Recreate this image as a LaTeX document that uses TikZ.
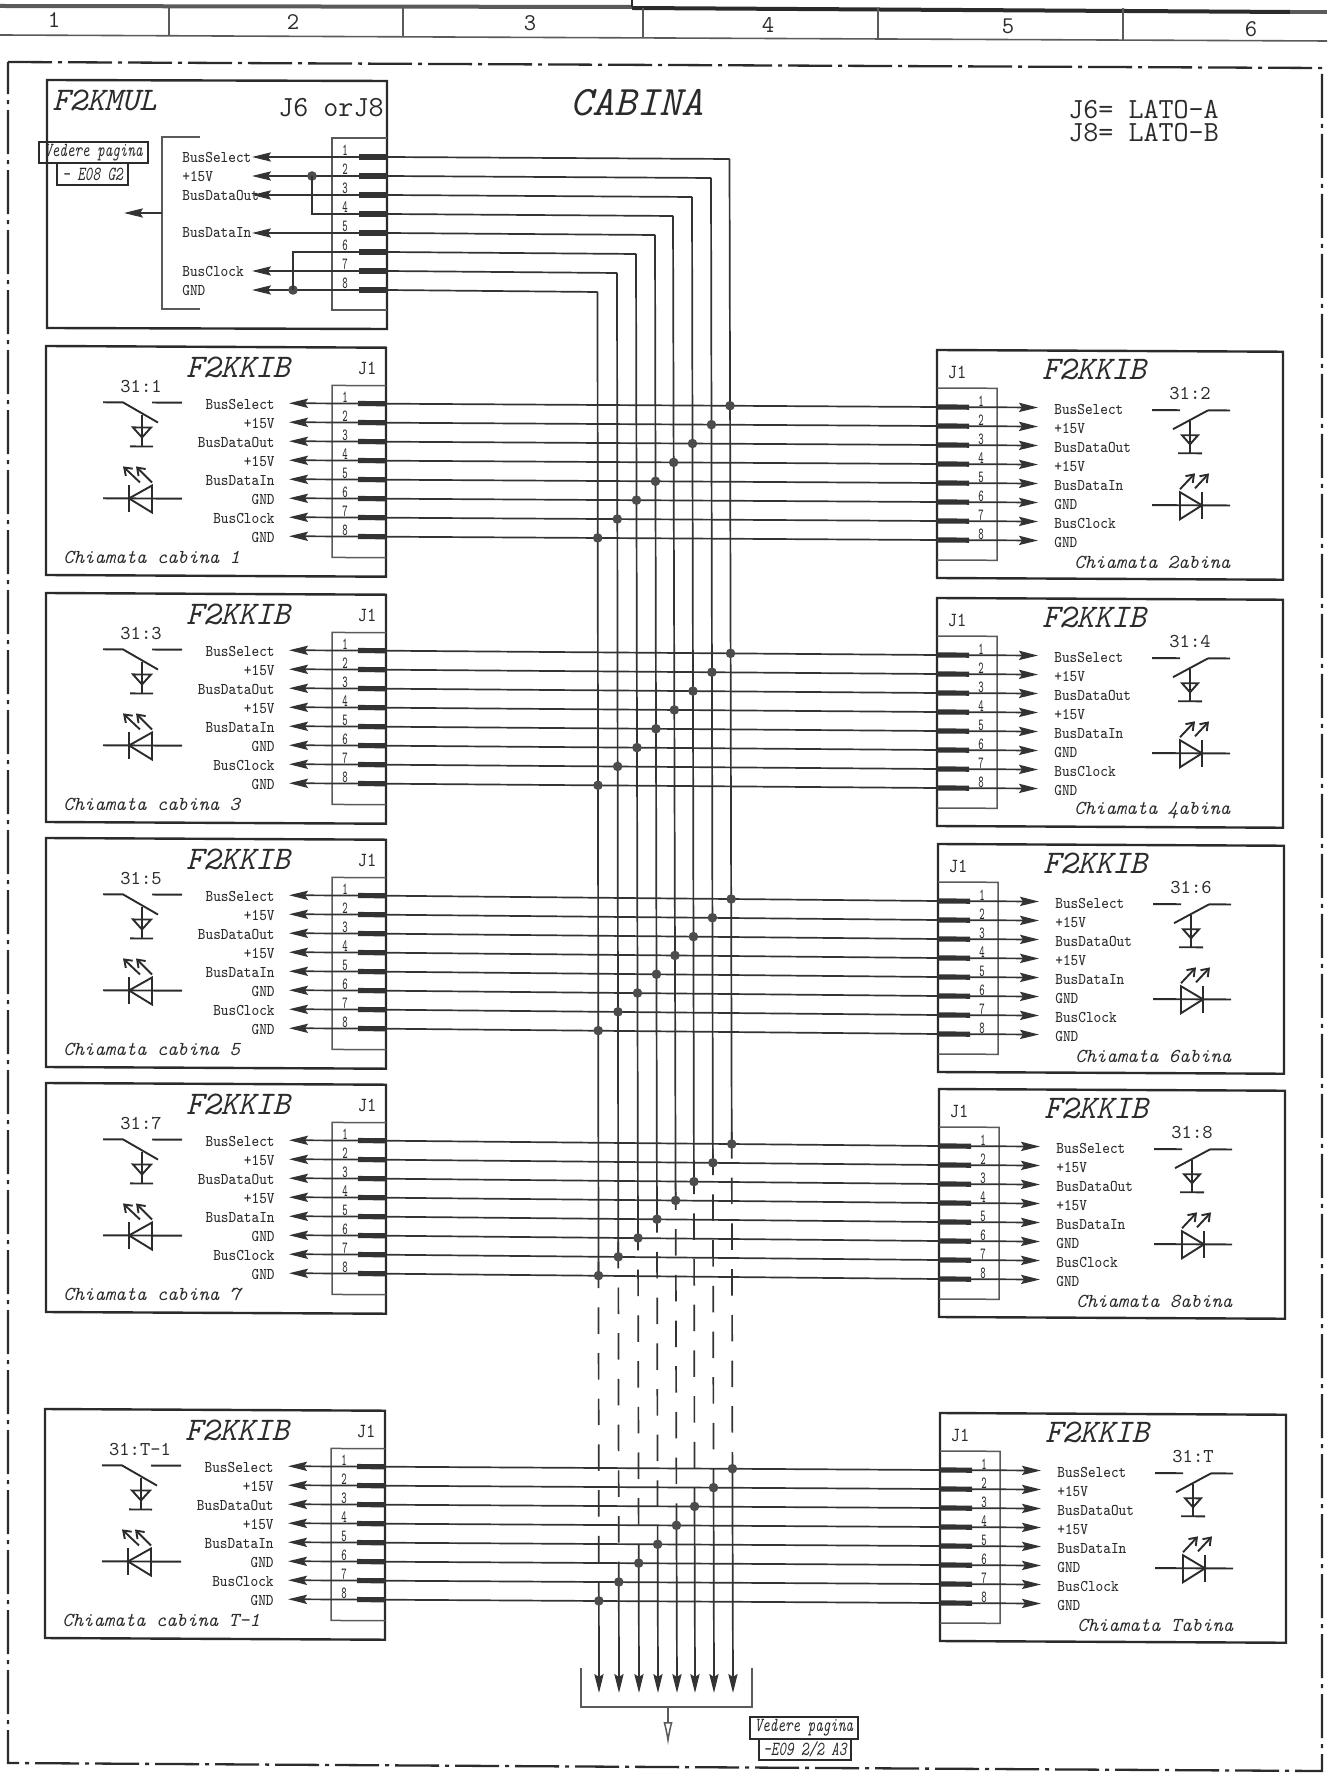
\documentclass[tikz,border=0pt]{standalone}
\usepackage{fontspec}
\usetikzlibrary{arrows.meta, calc}
\newfontfamily\cadfont{Latin Modern Mono}
\newfontfamily\cadnarrow{Latin Modern Mono}[FakeStretch=0.88]
\newfontfamily\cadpin{Latin Modern Mono}[FakeStretch=0.6]
\newfontfamily\cadref{Latin Modern Mono}[FakeStretch=0.72]
\definecolor{inkc}{HTML}{2B2B2B}
\definecolor{wirec}{HTML}{333333}
\definecolor{softc}{HTML}{5A5A5A}
\tikzset{
 boxline/.style = {draw=inkc, line width=1.2pt},
 pinbox/.style = {draw=softc, line width=0.75pt},
 wire/.style = {draw=wirec, line width=0.85pt},
 pinwire/.style = {wire, -{Stealth[length=9.5pt, width=4.6pt, inset=1.5pt]}},
 stub/.style = {draw=wirec, line width=2.6pt},
 symbol/.style = {draw=inkc, line width=0.95pt},
 ledray/.style = {draw=inkc, line width=0.95pt, -{Straight Barb[length=3.5pt, width=5pt]}},
 busdot/.style = {circle, fill=softc!85!black, inner sep=0pt, minimum size=4.8pt},
 titletext/.style = {font=\cadfont\itshape\fontsize{16.5}{18}\selectfont, text=inkc, inner sep=0pt},
 largetext/.style = {font=\cadfont\fontsize{14.6}{11.5}\selectfont, text=inkc, inner sep=0pt},
 tagtext/.style = {font=\cadfont\fontsize{9.8}{11}\selectfont, text=inkc, inner sep=0pt},
 captext/.style = {font=\cadfont\itshape\fontsize{9.9}{12}\selectfont, text=inkc, inner sep=0pt},
 jacktext/.style = {font=\cadnarrow\fontsize{10}{12}\selectfont, text=inkc, inner sep=0pt},
 sigtext/.style = {font=\cadnarrow\fontsize{8.2}{10}\selectfont, text=inkc, inner sep=0pt},
 pintext/.style = {font=\cadpin\fontsize{8.5}{10}\selectfont, text=inkc, inner sep=0pt},
 reftext/.style = {font=\cadref\itshape\fontsize{10}{12}\selectfont, text=inkc, inner sep=0pt},
 refbox/.style = {draw=inkc, line width=1pt, inner sep=0pt, minimum height=10.5pt},
 colnum/.style = {font=\cadfont\fontsize{12}{14}\selectfont, text=inkc, inner sep=0pt},
 headline/.style = {draw=softc, line width=0.8pt},
}
\newcommand{\kibleft}[5]{
 \begin{scope}[shift={(#2,#3)}, yslant=-0.005]
 \draw[boxline] (0,0) -- (340,0) -- (340,229) -- (0,229) -- cycle;
 \draw[pinbox] (340,38) -- (286,38) -- (286,210) -- (340,210);
 \node[titletext] (#1title) at (192,20) {F2KKIB};
 \node[jacktext] (#1jack) at (321,21) {J1};
 \node[tagtext] (#1tag) at (95,40) {#4};
 \node[captext, anchor=west] (#1cap) at (17,211) {#5};
 \draw[symbol] (57,56) -- (77,56) -- (112,76);
 \draw[symbol] (106,56) -- (136,56);
 \draw[symbol] (96,69) -- (96,100);
 \draw[symbol] (84,100) -- (107,100);
 \draw[symbol] (87,81) -- (105,81) -- (96,91) -- cycle;
 \draw[symbol] (57,152) -- (136,152);
 \draw[symbol] (83,139) -- (83,166);
 \draw[symbol] (83,152) -- (106,139) -- (106,166) -- cycle;
 \draw[ledray] (106,136) -- (90,120);
 \draw[ledray] (94,136) -- (77,120);
 \foreach \p/\t in {1/BusSelect, 2/+15V, 3/BusDataOut, 4/+15V, 5/BusDataIn, 6/GND, 7/BusClock, 8/GND} {
  \coordinate (#1s\p) at (340,{56+19*(\p-1)});
  \coordinate (#1t\p) at (243,{56+19*(\p-1)});
  \draw[pinwire] (#1s\p) -- (#1t\p);
  \draw[stub] (#1s\p) -- ++(-28,0);
  \node[pintext] (#1n\p) at (299,{50+19*(\p-1)}) {\p};
  \node[sigtext, anchor=east] (#1l\p) at (229,{57.5+19*(\p-1)}) {\t};
 }
 \end{scope}
}
\newcommand{\kibright}[5]{
 \begin{scope}[shift={(#2,#3)}, yslant=-0.005]
 \draw[boxline] (0,0) -- (346,0) -- (346,228) -- (0,228) -- cycle;
 \draw[pinbox] (0,38) -- (60,38) -- (60,210) -- (0,210);
 \node[titletext] (#1title) at (157,19) {F2KKIB};
 \node[jacktext] (#1jack) at (20,22) {J1};
 \node[tagtext] (#1tag) at (253,42) {#4};
 \node[captext, anchor=west] (#1cap) at (137,212) {Chiamata #5abina};
 \draw[symbol] (215,59) -- (243,59);
 \draw[symbol] (271,59) -- (293,59);
 \draw[symbol] (271,59) -- (236,78);
 \draw[symbol] (253,70) -- (253,102);
 \draw[symbol] (241,102) -- (265,102);
 \draw[symbol] (245,84) -- (261,84) -- (253,93) -- cycle;
 \draw[symbol] (215,154) -- (293,154);
 \draw[symbol] (243,141) -- (243,168) -- (265,154) -- cycle;
 \draw[symbol] (265,141) -- (265,168);
 \draw[ledray] (243,138) -- (258,122);
 \draw[ledray] (258,137) -- (272,122);
 \foreach \p/\t in {1/BusSelect, 2/+15V, 3/BusDataOut, 4/+15V, 5/BusDataIn, 6/GND, 7/BusClock, 8/GND} {
  \coordinate (#1s\p) at (0,{57+19*(\p-1)});
  \coordinate (#1t\p) at (101,{57+19*(\p-1)});
  \draw[pinwire] (#1s\p) -- (#1t\p);
  \draw[stub] (#1s\p) -- ++(32,0);
  \node[pintext] (#1n\p) at (44,{51+19*(\p-1)}) {\p};
  \node[sigtext, anchor=west] (#1l\p) at (117,{58.5+19*(\p-1)}) {\t};
 }
 \end{scope}
}

\begin{document}
\begin{tikzpicture}[x=0.5pt, y=-0.5pt]
 \useasboundingbox (0,0) rectangle (1327,1775);

 \draw[softc, line width=2pt] (0,6) -- (632,7);
 \draw[inkc, line width=2pt] (632,8) -- (1290,12);
 \draw[softc, line width=2pt] (1290,12) -- (1327,12);
 \draw[inkc, line width=1pt] (632,0) -- (632,7);
 \draw[headline] (0,35) -- (1327,41);
 \foreach \x/\y in {169/36, 403/37, 643/38, 878/39, 1123/40} {
  \draw[headline] (\x,8) -- (\x,\y);
 }
 \foreach \n/\x/\y in {1/54/20, 2/293/22, 3/530/23, 4/768/25, 5/1008/26, 6/1251/29} {
  \node[colnum] (col\n) at (\x,\y) {\n};
 }
 \draw[inkc, line width=1.15pt, dash pattern=on 22pt off 3pt on 2pt off 3pt]
 (8,62) -- (1322,68) -- (1322,1771) -- (8,1763) -- cycle;

 \node[titletext, font=\cadfont\itshape\fontsize{21}{23}\selectfont] (cabina) at (637,103) {CABINA};
 \node[largetext, anchor=west, align=left] (sides) at (1068,121.5) {J6= LATO-A\\J8= LATO-B};

 \draw[boxline] (47,80) -- (387,81) -- (387,329) -- (47,328) -- cycle;
 \node[titletext, anchor=west] (multitle) at (52,100) {F2KMUL};
 \node[largetext, anchor=east] (muljack) at (384,108) {J6 orJ8};
 \draw[pinbox] (387,138) -- (332,138) -- (332,310) -- (387,310);
 \draw[pinbox] (200,137) -- (162,137) -- (162,309) -- (200,309);
 \coordinate (mulbrace) at (162,213);
 \coordinate (multip) at (124,213);
 \draw[pinwire] (mulbrace) -- (multip);
 \node[refbox, minimum width=54.5pt, reftext] (mulref) at (93.5,152.5) {Vedere pagina};
 \node[refbox, minimum width=35.5pt, minimum height=11pt, reftext] (mulsheet) at (92.5,174) {- E08 G2};
 \foreach \p/\t in {1/BusSelect, 2/+15V, 3/BusDataOut, 5/BusDataIn, 7/BusClock, 8/GND} {
  \node[sigtext, anchor=west] (mull\p) at (182,{157+19*(\p-1)}) {\t};
 }
 \foreach \p in {1,...,8} {
  \coordinate (muls\p) at (387,{157+19*(\p-1)});
  \draw[stub] (muls\p) -- ++(-28,0);
  \node[pintext] (muln\p) at (345,{150+19*(\p-1)}) {\p};
 }
 \foreach \p in {1,2,3,5,7,8} {
  \coordinate (mult\p) at (252,{157+19*(\p-1)});
  \draw[pinwire] (muls\p) -- (mult\p);
 }
 \node[busdot] (muldotv) at (312,176) {};
 \node[busdot] (muldotg) at (293,290) {};
 \draw[wire] (muls4) -| (muldotv.center);
 \draw[wire] (muls6) -| (muldotg.center);

 \kibleft{L1}{46}{346}{31:1}{Chiamata cabina 1}
 \kibleft{L2}{46}{593}{31:3}{Chiamata cabina 3}
 \kibleft{L3}{46}{838}{31:5}{Chiamata cabina 5}
 \kibleft{L4}{46}{1083}{31:7}{Chiamata cabina 7}
 \kibleft{L5}{45}{1409}{31:T-1}{Chiamata cabina T-1}
 \kibright{R1}{937}{350}{31:2}{2}
 \kibright{R2}{937}{598}{31:4}{4}
 \kibright{R3}{938}{844}{31:6}{6}
 \kibright{R4}{939}{1089}{31:8}{8}
 \kibright{R5}{940}{1413}{31:T}{T}

 \foreach \p/\xa/\xb/\k in {1/729.5/733/12, 2/711/714/14, 3/692/695/14, 4/673/677/17, 5/655/658/13, 6/636/639/14, 7/617/619/15, 8/597.5/599/14} {
  \coordinate (bustop\p) at (\xa,{159+19*(\p-1)});
  \coordinate (busend\p) at (\xb,1693);
  \draw[wire] (muls\p) -- (bustop\p);
  \foreach \r in {1,...,5} {
   \coordinate (cross\r\p) at (intersection cs:first line={(L\r s\p)--(R\r s\p)}, second line={(bustop\p)--(busend\p)});
   \draw[wire] (L\r s\p) -- (R\r s\p);
  }
  \coordinate (dashtop\p) at ($(cross4\p)+(0,-\k)$);
  \draw[wire] (bustop\p) -- (cross4\p);
  \draw[wire, dash pattern=on 13.25pt off 9.6pt] (dashtop\p) -- (cross5\p);
  \draw[pinwire] (cross5\p) -- (busend\p);
 }
 \foreach \r in {1,...,5} {
  \foreach \p in {1,...,8} {
   \node[busdot] (dot\r\p) at (cross\r\p) {};
  }
 }

 \draw[pinbox] (581,1668) -- (581,1707) -- (752,1707) -- (752,1668);
 \coordinate (trayout) at (668,1707);
 \coordinate (traytip) at (668,1746);
 \draw[pinbox, -{Latex[open, length=12pt, width=4.6pt]}] (trayout) -- (traytip);
 \node[refbox, minimum width=54pt, minimum height=11pt, reftext] (trayref) at (804,1728) {Vedere pagina};
 \node[refbox, minimum width=46pt, reftext] (traysheet) at (805,1749.5) {-E09 2/2 A3};
\end{tikzpicture}
\end{document}
